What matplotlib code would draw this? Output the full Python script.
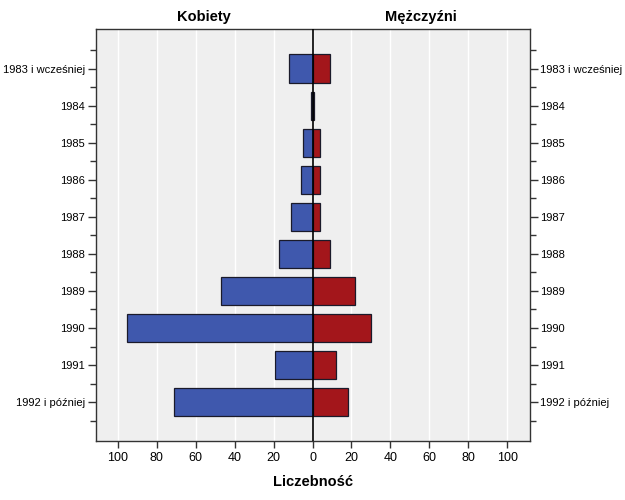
import matplotlib
matplotlib.use("Agg")
import matplotlib.pyplot as plt
from matplotlib.ticker import FuncFormatter, FixedLocator

plt.rcParams['font.family'] = ['Liberation Sans', 'DejaVu Sans']

categories = ["1983 i wcześniej", "1984", "1985", "1986", "1987",
              "1988", "1989", "1990", "1991", "1992 i później"]
kobiety = [12, 1, 5, 6, 11, 17, 47, 95, 19, 71]
mezczyzni = [9, 1, 4, 4, 4, 9, 22, 30, 12, 18]
xticks = [-100, -80, -60, -40, -20, 0, 20, 40, 60, 80, 100]

blue = "#3F58AD"
red = "#A3161B"

fig = plt.figure(figsize=(6.25, 5), dpi=100)
ax = fig.add_axes([0.1528, 0.118, 0.6944, 0.8234])
ax.set_facecolor("#EFEFEF")

ypos = list(range(len(categories)))
ax.barh(ypos, [-v for v in kobiety], height=0.76, color=blue,
        edgecolor="#1a1a2a", linewidth=0.9, zorder=3)
ax.barh(ypos, mezczyzni, height=0.76, color=red,
        edgecolor="#1a1a2a", linewidth=0.9, zorder=3)

ax.axvline(0, color="black", linewidth=1.2, zorder=4)

ax.set_xlim(-111.3, 111.3)
ax.set_ylim(10.05, -1.06)

ax.set_xticks(xticks)
ax.xaxis.set_major_formatter(FuncFormatter(lambda v, p: f"{abs(int(round(v)))}"))
ax.grid(axis="x", color="white", linewidth=1.0, zorder=0)
ax.set_axisbelow(True)

ax.set_yticks(ypos)
ax.set_yticklabels(categories)
ax.yaxis.set_minor_locator(FixedLocator([i - 0.5 for i in range(len(categories) + 1)]))
ax.tick_params(axis="y", which="both", left=True, right=True,
               labelleft=True, labelright=True, direction="out",
               labelsize=8, color="#333333", pad=1.5)
ax.tick_params(axis="y", which="major", length=6, width=1)
ax.tick_params(axis="y", which="minor", length=4, width=1)
ax.tick_params(axis="x", which="major", length=5, width=1,
               labelsize=9, color="#333333", pad=3)

for s in ax.spines.values():
    s.set_color("#333333")
    s.set_linewidth(1.0)

ax.text(0.25, 1.012, "Kobiety", transform=ax.transAxes, ha="center",
        va="bottom", fontsize=10.5, fontweight="bold")
ax.text(0.75, 1.012, "Mężczyźni", transform=ax.transAxes, ha="center",
        va="bottom", fontsize=10.5, fontweight="bold")
ax.set_xlabel("Liczebność", fontsize=10.5, fontweight="bold", labelpad=8)

fig.savefig("out.png", dpi=100)
